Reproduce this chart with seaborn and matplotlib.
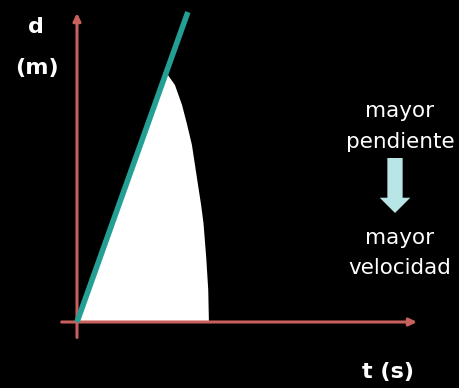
import matplotlib
matplotlib.use("Agg")
import matplotlib.pyplot as plt
import seaborn as sns
import pandas as pd

# Position-time line (constant velocity): t in s, d in m
line_t = [0.0, 3.26]
line_d = [0.0, 10.03]

# Outline of the white region under the steep slope
region_t = [0.0, 2.63, 2.88, 3.09, 3.24, 3.38, 3.47, 3.56, 3.65, 3.72, 3.80, 3.86, 3.88]
region_d = [0.0, 8.06, 7.67, 7.02, 6.38, 5.73, 5.08, 4.43, 3.79, 3.20, 2.10, 1.04, 0.0]

# Axis extents
t_axis = [-0.45, 10.0]
d_axis = [-0.50, 10.0]

y_label = ["d", "(m)"]
x_label = "t (s)"
note_top = ["mayor", "pendiente"]
note_bottom = ["mayor", "velocidad"]

sns.set_style("dark", rc={"axes.facecolor": "black", "figure.facecolor": "black"})
plt.rcParams["font.family"] = ["DejaVu Sans"]

W, H = 460, 388
fig = plt.figure(figsize=(W / 100, H / 100), dpi=100)
ax = fig.add_axes([0, 0, 1, 1])
ax.set_facecolor("black")

xlim = (-77 / 34, (W - 77) / 34)
ylim = (-(H - 322) / 30.9, 322 / 30.9)

ax.fill(region_t, region_d, color="white", zorder=1, lw=0)

axis_color = "#c8605c"
arrow_kw = dict(arrowstyle="-|>,head_length=0.45,head_width=0.22",
                color=axis_color, lw=2.2, shrinkA=0, shrinkB=0)
ax.annotate("", xy=(t_axis[1], 0), xytext=(t_axis[0], 0), arrowprops=arrow_kw, zorder=2)
ax.annotate("", xy=(0, d_axis[1]), xytext=(0, d_axis[0]), arrowprops=arrow_kw, zorder=2)

df = pd.DataFrame({"t": line_t, "d": line_d})
sns.lineplot(data=df, x="t", y="d", ax=ax, color="#23a093", lw=4.0,
             solid_capstyle="butt", zorder=3)
ax.set_xlim(*xlim)
ax.set_ylim(*ylim)
ax.axis("off")


def fx(px):
    return px / W


def fy(py):
    return 1 - py / H


fig.text(fx(36), fy(27), y_label[0], color="white", fontsize=16, fontweight="bold",
         ha="center", va="center")
fig.text(fx(37), fy(68), y_label[1], color="white", fontsize=16, fontweight="bold",
         ha="center", va="center")
fig.text(fx(388), fy(372), x_label, color="white", fontsize=16, fontweight="bold",
         ha="center", va="center")

for txt, base in zip(note_top + note_bottom, [117, 148, 244, 274]):
    fig.text(fx(400), fy(base), txt, color="white", fontsize=15.5,
             ha="center", va="baseline")

# block arrow between the two notes
ax.annotate("", xy=(fx(395), fy(213)), xytext=(fx(395), fy(158)),
            xycoords="figure fraction", textcoords="figure fraction",
            arrowprops=dict(arrowstyle="simple,head_width=22,head_length=11,tail_width=11",
                            mutation_scale=1, color="#b8e6e6", lw=0,
                            shrinkA=0, shrinkB=0))

fig.savefig("out.png", dpi=100, facecolor="black")
